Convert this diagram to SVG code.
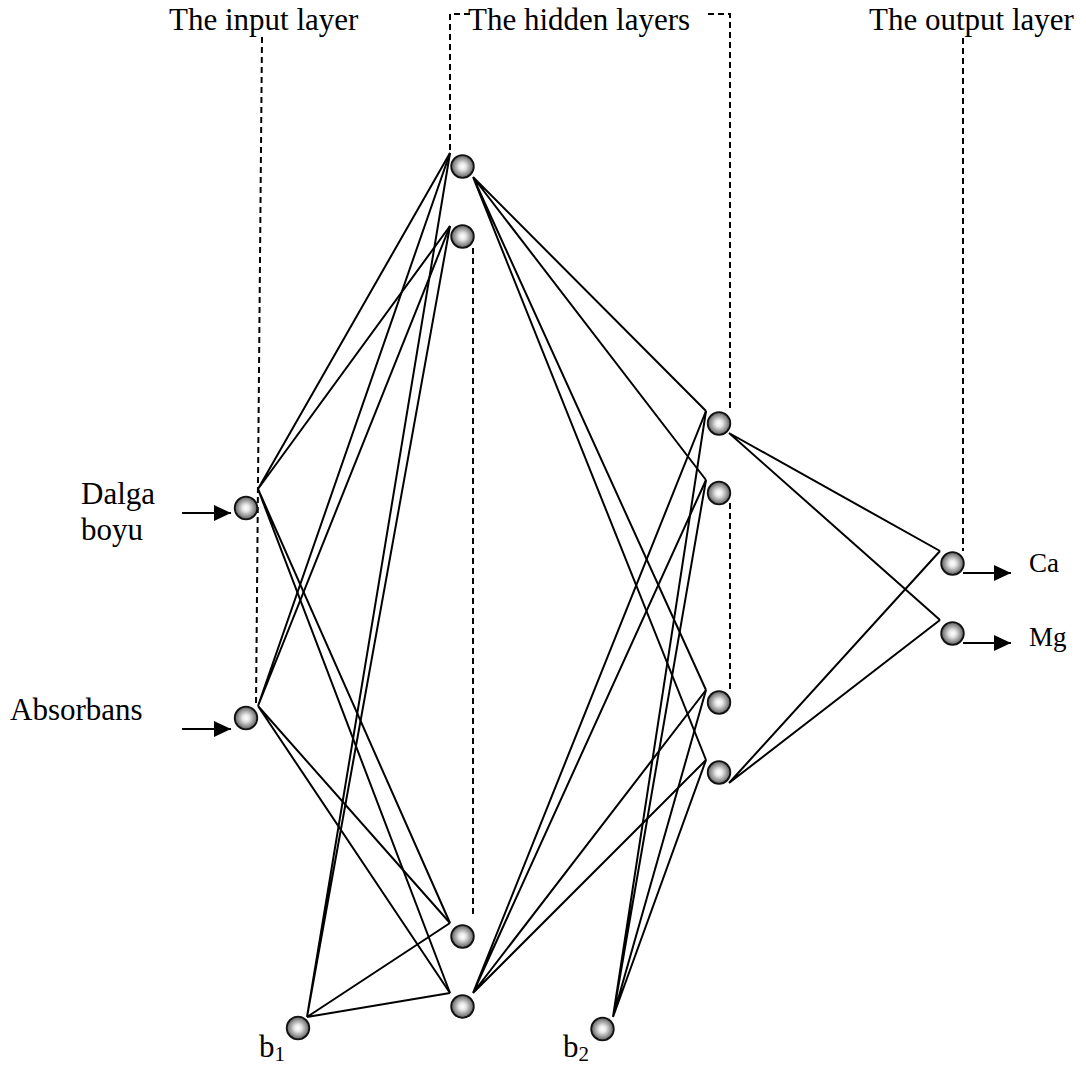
<svg xmlns="http://www.w3.org/2000/svg" width="1086" height="1068" viewBox="0 0 1086 1068">
<style>
.lbl{font-family:"Liberation Serif","Times New Roman",serif;font-size:31px;fill:#000}
.out{font-family:"Liberation Serif","Times New Roman",serif;font-size:27px;fill:#000}
.sub{font-size:21px}
.edge{stroke:#000;stroke-width:2;fill:none}
.dash{stroke:#000;stroke-width:2;fill:none;stroke-dasharray:6 4}
.arr{stroke:#000;stroke-width:2;fill:none;marker-end:url(#ah)}
.node{fill:url(#ball);stroke:#111;stroke-width:1.8}
</style>
<defs>
<radialGradient id="ball" cx="50%" cy="50%" r="50%">
<stop offset="0" stop-color="#ffffff"/>
<stop offset="0.3" stop-color="#e8e8e8"/>
<stop offset="1" stop-color="#5e5e5e"/>
</radialGradient>
<marker id="ah" markerUnits="userSpaceOnUse" markerWidth="18" markerHeight="16" refX="17" refY="8" orient="auto">
<path d="M0,0 L17,8 L0,16 Z" fill="#000"/>
</marker>
</defs>
<rect width="1086" height="1068" fill="#fff"/>

<g id="layer-labels">
<text class="lbl" x="169" y="30">The input layer</text>
<text class="lbl" x="468" y="30">The hidden layers</text>
<text class="lbl" x="869" y="30">The output layer</text>
</g>

<g id="guides">
<path class="dash" d="M262,37 L256,705"/>
<path class="dash" d="M470,14 L450,14 L450,153"/>
<path class="dash" d="M708,14 L730,14 L730,410"/>
<path class="dash" d="M963,38 L963,551"/>
<path class="dash" d="M473,248 L473,916"/>
<path class="dash" d="M730,503 L730,690"/>
</g>

<g id="connectors">
<path class="edge" d="M258,489 L450,153 M258,489 L450,226 M258,489 L450,923 M258,489 L450,993"/>
<path class="edge" d="M258,706 L450,153 M258,706 L450,226 M258,706 L450,923 M258,706 L450,993"/>
<path class="edge" d="M307,1017 L450,153 M307,1017 L450,226 M307,1017 L450,923 M307,1017 L450,993"/>
<path class="edge" d="M473,177 L706,411 M473,177 L706,480 M473,177 L706,690 M473,177 L706,760"/>
<path class="edge" d="M473,993 L706,411 M473,993 L706,480 M473,993 L706,690 M473,993 L706,760"/>
<path class="edge" d="M613,1017 L706,411 M613,1017 L706,480 M613,1017 L706,690 M613,1017 L706,760"/>
<path class="edge" d="M729,433 L940,551 M729,433 L940,620 M729,783 L940,551 M729,783 L940,620"/>
<path class="arr" d="M182,513 L231,513"/>
<path class="arr" d="M182,729 L231,729"/>
<path class="arr" d="M963,573 L1011,573"/>
<path class="arr" d="M963,643 L1011,643"/>
</g>

<g id="in-dalga"><circle class="node" cx="246" cy="508" r="11.3"/><text class="lbl" x="81" y="504">Dalga</text><text class="lbl" x="81" y="540">boyu</text></g>
<g id="in-absorbans"><circle class="node" cx="246" cy="718" r="11.3"/><text class="lbl" x="10" y="720">Absorbans</text></g>
<g id="bias1"><circle class="node" cx="298" cy="1028" r="11.3"/><text class="lbl" x="259" y="1057">b<tspan class="sub" dy="4">1</tspan></text></g>
<g id="h1-1"><circle class="node" cx="462.5" cy="166.5" r="11.3"/></g>
<g id="h1-2"><circle class="node" cx="462.5" cy="236.5" r="11.3"/></g>
<g id="h1-3"><circle class="node" cx="462.5" cy="936.5" r="11.3"/></g>
<g id="h1-4"><circle class="node" cx="462.5" cy="1006.5" r="11.3"/></g>
<g id="bias2"><circle class="node" cx="602.5" cy="1029" r="11.3"/><text class="lbl" x="563" y="1057">b<tspan class="sub" dy="4">2</tspan></text></g>
<g id="h2-1"><circle class="node" cx="719" cy="423.5" r="11.3"/></g>
<g id="h2-2"><circle class="node" cx="719" cy="493" r="11.3"/></g>
<g id="h2-3"><circle class="node" cx="719" cy="702.5" r="11.3"/></g>
<g id="h2-4"><circle class="node" cx="719" cy="772.5" r="11.3"/></g>
<g id="out-ca"><circle class="node" cx="952.5" cy="563.5" r="11.3"/><text class="out" x="1029" y="572">Ca</text></g>
<g id="out-mg"><circle class="node" cx="952.5" cy="633.5" r="11.3"/><text class="out" x="1029" y="646">Mg</text></g>
</svg>
